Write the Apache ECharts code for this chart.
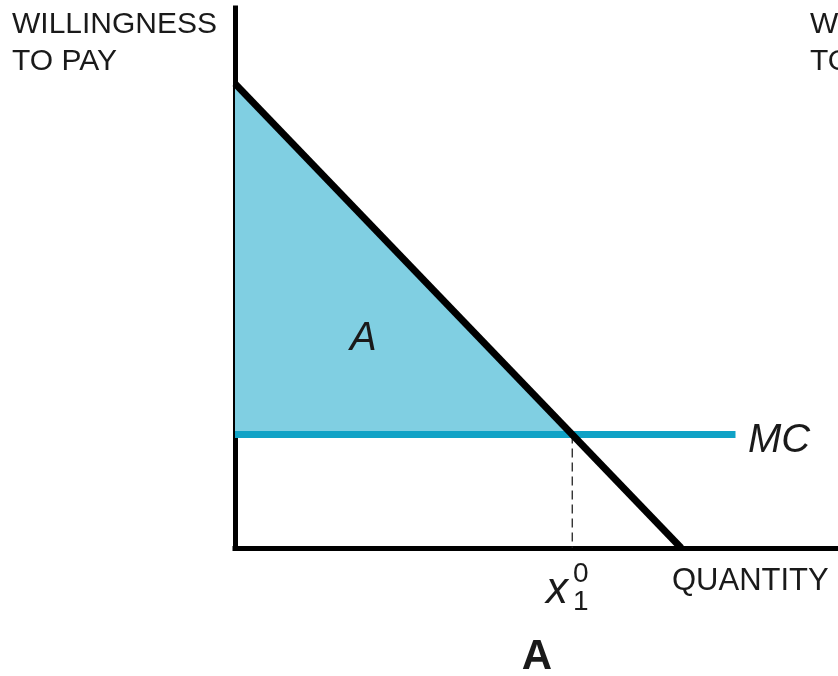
<!DOCTYPE html>
<html>
<head>
<meta charset="utf-8">
<script src="https://cdn.jsdelivr.net/npm/echarts@6/dist/echarts.min.js"></script>
<style>
  html, body { margin: 0; padding: 0; background: #fff; }
  #chart { width: 838px; height: 676px; }
</style>
</head>
<body>
<div id="chart"></div>
<script>
// data (arbitrary units: quantity 0..100, willingness to pay 0..100)
const demandX = [0, 74];
const demandY = [86, 0];
const mcLevel = 21;
const mcEndX = 83;
// quantity where demand meets MC
const x0 = demandX[1] * (1 - mcLevel / demandY[0]);

const FONT = '"Liberation Sans", Arial, sans-serif';
const INK = '#1a1a1a';
const chart = echarts.init(document.getElementById('chart'));

// text helper: x = left edge (or centre), y = middle of the line
function label(text, x, y, font, align) {
    return {
        type: 'text', x: x, y: y, z: 10,
        style: { text: text, font: font, fill: INK, align: align || 'left', verticalAlign: 'middle' }
    };
}

chart.setOption({
    animation: false,
    grid: { left: 235, right: 0, top: 8, bottom: 128 },
    xAxis: {
        type: 'value', min: 0, max: 100,
        axisLine: { lineStyle: { color: '#000', width: 5, cap: 'square' } },
        axisTick: { show: false }, axisLabel: { show: false }, splitLine: { show: false }
    },
    yAxis: {
        type: 'value', min: 0, max: 100,
        axisLine: { show: true, lineStyle: { color: '#000', width: 5, cap: 'square' } },
        axisTick: { show: false }, axisLabel: { show: false }, splitLine: { show: false }
    },
    series: [
        {   // consumer surplus area A
            type: 'line', symbol: 'none', silent: true, z: 1,
            data: [[0, demandY[0]], [x0, mcLevel]],
            lineStyle: { width: 0 },
            areaStyle: { color: '#80cfe2', opacity: 1, origin: mcLevel }
        },
        {   // MC line
            type: 'line', symbol: 'none', z: 2,
            data: [[0, mcLevel], [mcEndX, mcLevel]],
            lineStyle: { color: '#10a2c6', width: 7 }
        },
        {   // dashed drop line
            type: 'line', symbol: 'none', z: 2,
            data: [[x0, mcLevel], [x0, 0]],
            lineStyle: { color: '#222', width: 1.3, type: [9, 5] }
        },
        {   // demand curve
            type: 'line', symbol: 'none', z: 3,
            data: [[demandX[0], demandY[0]], [demandX[1], demandY[1]]],
            lineStyle: { color: '#000', width: 7 }
        }
    ],
    graphic: [
        label('WILLINGNESS', 12, 25, '30px ' + FONT),
        label('TO PAY', 12, 62, '30px ' + FONT),
        label('WILLINGNESS', 810, 25, '30px ' + FONT),
        label('TO PAY', 810, 62, '30px ' + FONT),
        label('QUANTITY', 672, 581, '31px ' + FONT),
        label('x', 546, 591, 'italic 44px ' + FONT),
        label('0', 573, 574, '28px ' + FONT),
        label('1', 573, 602, '28px ' + FONT),
        label('MC', 748, 441, 'italic 40px ' + FONT),
        label('A', 350, 339, 'italic 40px ' + FONT),
        label('A', 537, 657, 'bold 42px ' + FONT, 'center')
    ]
});
</script>
</body>
</html>
